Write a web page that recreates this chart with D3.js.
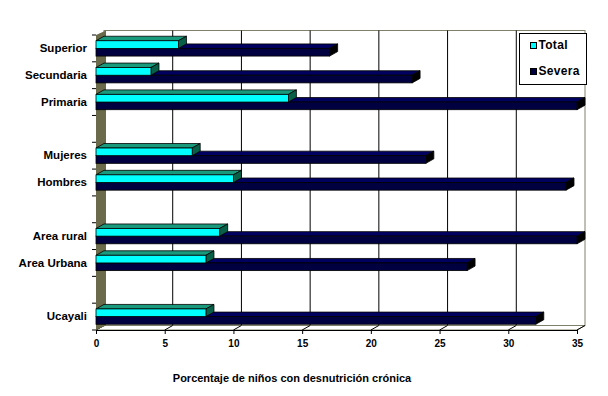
<!DOCTYPE html>
<html>
<head>
<meta charset="utf-8" />
<title>Desnutrición crónica</title>
<script src="https://cdn.jsdelivr.net/npm/d3@7"></script>
<style>
    html, body { margin: 0; padding: 0; background: #fff; }
    text { font-family: "Liberation Sans", Arial, sans-serif; font-weight: bold; fill: #000; }
</style>
</head>
<body>
<script>
// datos (de arriba hacia abajo, "" = espacio vacío)
var categories = ["Superior", "Secundaria", "Primaria", "", "Mujeres", "Hombres", "", "Area rural", "Area Urbana", "", "Ucayali"];
var totalValues = [6, 4, 14, null, 7, 10, null, 9, 8, null, 8];
var severaValues = [17, 23, 35, null, 24, 34.2, null, 35, 27, null, 32];
var seriesNames = ["Total", "Severa"];
var xTicks = [0, 5, 10, 15, 20, 25, 30, 35];
var axisTitle = "Porcentaje de niños con desnutrición crónica";

var width = 608, height = 396;
var dx = 8, dy = -4.5; // profundidad 3D
var svg = d3.select('body').append('svg').attr('width', width).attr('height', height);

var x = d3.scaleLinear().domain([0, 35]).range([96, 577]);
var y = d3.scaleBand().domain(d3.range(categories.length)).range([35, 330]);
var yInner = d3.scaleBand().domain(seriesNames).range([0, y.bandwidth()]).paddingOuter(0.75);

var colors = {
    Total: { front: '#00ffff', top: '#1a9a7c', side: '#086048' },
    Severa: { front: '#000040', top: '#000060', side: '#000000' }
};

var y0 = y.range()[0], y1 = y.range()[1];

// pared de fondo
svg.append('rect')
    .attr('x', x(0) + dx).attr('y', y0 + dy)
    .attr('width', x(35) - x(0)).attr('height', y1 - y0)
    .attr('fill', '#fff').attr('stroke', '#80806a').attr('stroke-width', 1);

// líneas de división en la pared de fondo
svg.selectAll('.grid').data(xTicks.slice(1, -1)).enter().append('line')
    .attr('x1', d => x(d) + dx).attr('x2', d => x(d) + dx)
    .attr('y1', y0 + dy).attr('y2', y1 + dy)
    .attr('stroke', '#000').attr('stroke-width', 1);

// piso
svg.append('path')
    .attr('d', 'M' + x(0) + ',' + y1 + 'L' + x(35) + ',' + y1 + 'L' + (x(35) + dx) + ',' + (y1 + dy) + 'L' + (x(0) + dx) + ',' + (y1 + dy) + 'Z')
    .attr('fill', '#fff').attr('stroke', '#80806a').attr('stroke-width', 1);
svg.selectAll('.floortick').data(xTicks).enter().append('line')
    .attr('x1', d => x(d)).attr('y1', y1)
    .attr('x2', d => x(d) + dx).attr('y2', y1 + dy)
    .attr('stroke', '#000');

// pared lateral
svg.append('path')
    .attr('d', 'M' + x(0) + ',' + y0 + 'L' + (x(0) + dx + 2) + ',' + (y0 + dy) + 'L' + (x(0) + dx + 2) + ',' + (y1 + dy) + 'L' + x(0) + ',' + y1 + 'Z')
    .attr('fill', '#6b6b4b');

// eje X
var xAxis = svg.append('g').attr('transform', 'translate(0,' + y1 + ')')
    .call(d3.axisBottom(x).tickValues(xTicks).tickSize(4).tickPadding(6));
xAxis.select('.domain').attr('stroke', '#000');
xAxis.selectAll('text').style('font-size', '10px').style('font-family', '"Liberation Sans", Arial, sans-serif').style('font-weight', 'bold');

// eje Y (marcas en los límites de cada banda)
svg.selectAll('.ytick').data(d3.range(categories.length + 1)).enter().append('line')
    .attr('x1', x(0) - 4).attr('x2', x(0))
    .attr('y1', d => y0 + d * y.step()).attr('y2', d => y0 + d * y.step())
    .attr('stroke', '#000');
var yAxis = svg.append('g').attr('transform', 'translate(' + x(0) + ',0)')
    .call(d3.axisLeft(y).tickSize(0).tickPadding(9).tickFormat(i => categories[i]));
yAxis.select('.domain').remove();
yAxis.selectAll('text').style('font-size', '11.5px').style('font-family', '"Liberation Sans", Arial, sans-serif').style('font-weight', 'bold');

// barras 3D
var rows = [];
categories.forEach(function (c, i) {
    if (severaValues[i] != null) rows.push({ i: i, s: 'Severa', v: severaValues[i] });
    if (totalValues[i] != null) rows.push({ i: i, s: 'Total', v: totalValues[i] });
});

var bar = svg.selectAll('.bar').data(rows).enter().append('g').attr('class', 'bar');
function topY(d) { return y(d.i) + yInner(d.s); }
bar.append('path') // cara superior
    .attr('d', function (d) {
        var a = x(0), b = x(d.v), t = topY(d);
        return 'M' + a + ',' + t + 'L' + (a + dx) + ',' + (t + dy) + 'L' + (b + dx) + ',' + (t + dy) + 'L' + b + ',' + t + 'Z';
    })
    .attr('fill', d => colors[d.s].top).attr('stroke', '#000').attr('stroke-width', 0.8);
bar.append('path') // cara lateral
    .attr('d', function (d) {
        var b = x(d.v), t = topY(d), h = yInner.bandwidth();
        return 'M' + b + ',' + t + 'L' + (b + dx) + ',' + (t + dy) + 'L' + (b + dx) + ',' + (t + dy + h) + 'L' + b + ',' + (t + h) + 'Z';
    })
    .attr('fill', d => colors[d.s].side).attr('stroke', '#000').attr('stroke-width', 0.8);
bar.append('rect') // cara frontal
    .attr('x', x(0)).attr('y', topY)
    .attr('width', d => x(d.v) - x(0)).attr('height', yInner.bandwidth())
    .attr('fill', d => colors[d.s].front).attr('stroke', '#000').attr('stroke-width', 0.8);

// leyenda
var legend = svg.append('g').attr('transform', 'translate(519.5,33.5)');
legend.append('rect').attr('width', 67).attr('height', 51).attr('fill', '#fff').attr('stroke', '#000');
var li = legend.selectAll('.li').data(seriesNames).enter().append('g')
    .attr('transform', (d, i) => 'translate(11,' + (9 + i * 26) + ')');
li.append('rect').attr('width', 6).attr('height', 6)
    .attr('fill', d => colors[d].front).attr('stroke', '#000');
li.append('text').attr('x', 8).attr('y', 6).style('font-size', '12px').style('letter-spacing', '0.3px').text(d => d);

// título del eje
svg.append('text').attr('x', 292).attr('y', 382).attr('text-anchor', 'middle')
    .style('font-size', '11px').text(axisTitle);
</script>
</body>
</html>
